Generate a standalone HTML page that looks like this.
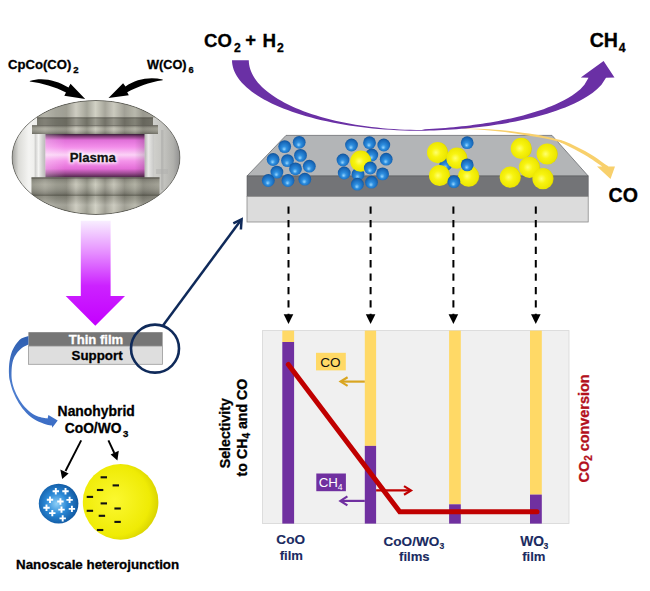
<!DOCTYPE html>
<html><head><meta charset="utf-8"><style>
html,body{margin:0;padding:0;background:#fff;width:650px;height:591px;overflow:hidden}
svg{display:block}
text{font-family:'Liberation Sans',sans-serif;font-weight:bold;stroke-width:0.3px}
.nv text{stroke-width:0.1px}
</style></head><body>
<svg width="650" height="591" viewBox="0 0 650 591">
<defs>
<radialGradient id="gb" cx="0.5" cy="0.55" r="0.62" fx="0.45" fy="0.72">
<stop offset="0" stop-color="#9ad8ff"/><stop offset="0.3" stop-color="#2e8fe0"/><stop offset="0.75" stop-color="#1766b6"/><stop offset="1" stop-color="#0d4684"/>
</radialGradient>
<radialGradient id="gy" cx="0.45" cy="0.5" r="0.62" fx="0.42" fy="0.5">
<stop offset="0" stop-color="#ffff70"/><stop offset="0.35" stop-color="#f8f410"/><stop offset="0.8" stop-color="#ece600"/><stop offset="1" stop-color="#b8b000"/>
</radialGradient>
<radialGradient id="gbig_b" cx="0.45" cy="0.5" r="0.6">
<stop offset="0" stop-color="#8fd0f8"/><stop offset="0.45" stop-color="#2a88d6"/><stop offset="1" stop-color="#0b4e96"/>
</radialGradient>
<radialGradient id="gbig_y" cx="0.42" cy="0.48" r="0.62">
<stop offset="0" stop-color="#fbf830"/><stop offset="0.75" stop-color="#efeb05"/><stop offset="1" stop-color="#d2cc00"/>
</radialGradient>
<linearGradient id="gmag" x1="0" y1="0" x2="0" y2="1">
<stop offset="0" stop-color="#f8eeff"/><stop offset="0.3" stop-color="#e690ff"/><stop offset="0.62" stop-color="#cc22ff"/><stop offset="1" stop-color="#c400ff"/>
</linearGradient>
<linearGradient id="gblue" x1="0" y1="0" x2="0" y2="1">
<stop offset="0" stop-color="#2f5fb0"/><stop offset="0.6" stop-color="#4f7fd0"/><stop offset="1" stop-color="#3a6cc4"/>
</linearGradient>
<linearGradient id="metal" gradientUnits="userSpaceOnUse" x1="12" y1="0" x2="180" y2="0">
<stop offset="0" stop-color="#707065"/><stop offset="0.107" stop-color="#89897c"/><stop offset="0.196" stop-color="#a7a699"/><stop offset="0.262" stop-color="#919184"/><stop offset="0.324" stop-color="#8a897c"/><stop offset="0.381" stop-color="#c3c2b4"/><stop offset="0.446" stop-color="#919183"/><stop offset="0.497" stop-color="#c7c7b8"/><stop offset="0.554" stop-color="#939285"/><stop offset="0.606" stop-color="#c0bfb1"/><stop offset="0.670" stop-color="#8d8c7f"/><stop offset="0.732" stop-color="#a9a99a"/><stop offset="0.780" stop-color="#848377"/><stop offset="0.881" stop-color="#9a998c"/><stop offset="1" stop-color="#6a695e"/>
</linearGradient>
<linearGradient id="metalv" x1="0" y1="0" x2="0" y2="1">
<stop offset="0" stop-color="#000" stop-opacity="0.2"/><stop offset="0.4" stop-color="#fff" stop-opacity="0.1"/><stop offset="1" stop-color="#000" stop-opacity="0.25"/>
</linearGradient>
<linearGradient id="pink" x1="0" y1="0" x2="0" y2="1">
<stop offset="0" stop-color="#3a1e3a"/><stop offset="0.06" stop-color="#8a4080"/><stop offset="0.14" stop-color="#e070d8"/><stop offset="0.3" stop-color="#f38eea"/><stop offset="0.48" stop-color="#fbd2f6"/><stop offset="0.62" stop-color="#f494ea"/><stop offset="0.8" stop-color="#e46ed8"/><stop offset="0.9" stop-color="#a04c96"/><stop offset="1" stop-color="#4a2444"/>
</linearGradient>
<linearGradient id="metalv2" x1="0" y1="0" x2="0" y2="1">
<stop offset="0" stop-color="#000" stop-opacity="0.15"/><stop offset="0.4" stop-color="#fff" stop-opacity="0.2"/><stop offset="0.75" stop-color="#fff" stop-opacity="0.1"/><stop offset="1" stop-color="#000" stop-opacity="0.2"/>
</linearGradient>
<linearGradient id="pinkh" x1="0" y1="0" x2="1" y2="0">
<stop offset="0" stop-color="#fff" stop-opacity="0.25"/><stop offset="0.2" stop-color="#fff" stop-opacity="0"/><stop offset="0.9" stop-color="#000" stop-opacity="0"/><stop offset="1" stop-color="#000" stop-opacity="0.15"/>
</linearGradient>
<linearGradient id="glassL" x1="0" y1="0" x2="1" y2="0">
<stop offset="0" stop-color="#c8c8c6"/><stop offset="0.35" stop-color="#f4f4f2"/><stop offset="0.7" stop-color="#d0d0ce"/><stop offset="1" stop-color="#b8b8b6"/>
</linearGradient>
<linearGradient id="glassR" x1="0" y1="0" x2="1" y2="0">
<stop offset="0" stop-color="#b0b0ae"/><stop offset="0.4" stop-color="#e8e8e6"/><stop offset="1" stop-color="#c8c8c6"/>
</linearGradient>
<linearGradient id="bgphoto" gradientUnits="userSpaceOnUse" x1="12" y1="0" x2="180" y2="0">
<stop offset="0" stop-color="#a0a09c"/><stop offset="0.04" stop-color="#dcdcd8"/><stop offset="0.1" stop-color="#f4f4f2"/><stop offset="0.2" stop-color="#e6e6e2"/><stop offset="0.8" stop-color="#d8d8d4"/><stop offset="0.9" stop-color="#c4c4c0"/><stop offset="0.96" stop-color="#b0b0ac"/><stop offset="1" stop-color="#909090"/>
</linearGradient>
<filter id="glow" x="-20%" y="-50%" width="140%" height="200%"><feGaussianBlur stdDeviation="1.6"/></filter>
<clipPath id="ell"><ellipse cx="96" cy="157.5" rx="84" ry="57"/></clipPath>
</defs>

<!-- black curved arrows -->
<path d="M29.8,81 C42,77 56,80 68.5,87.5 L70.5,83.8 L85.2,98.9 L64.3,95.8 L66,92.5 C55,87 42,83.2 29.8,81.6 Z" fill="#000"/>
<path d="M162.7,79.6 C150,76.5 136,79 125.5,86.5 L123.1,83.3 L108.5,98.1 L128.8,95.2 L127.2,92.2 C137,87 149,82.3 162.7,80.3 Z" fill="#000"/>

<!-- photo ellipse -->
<g clip-path="url(#ell)">
<rect x="0" y="95" width="190" height="125" fill="url(#bgphoto)"/>
<rect x="161" y="130" width="2.5" height="60" fill="#a8a8a6" opacity="0.5"/>
<rect x="156" y="169" width="12" height="5" fill="#b0b0ae" opacity="0.5"/>
<rect x="12" y="99" width="168" height="18.5" fill="url(#metal)"/>
<rect x="12" y="99" width="168" height="18.5" fill="#fff" fill-opacity="0.18"/>
<rect x="37" y="117.5" width="116" height="8" fill="url(#metal)"/>
<rect x="37" y="117.5" width="116" height="8" fill="#000" fill-opacity="0.22"/>
<rect x="37" y="117.3" width="116" height="1" fill="#3a3830" opacity="0.5"/>
<rect x="32" y="125.5" width="126" height="8.5" fill="url(#metal)"/>
<rect x="32" y="125.5" width="126" height="8.5" fill="url(#metalv)"/>
<rect x="32" y="125.2" width="126" height="0.9" fill="#3a3830" opacity="0.5"/>
<rect x="34.7" y="134" width="10.8" height="43.5" fill="url(#glassL)"/>
<rect x="144.5" y="134" width="9.5" height="43.5" fill="url(#glassR)"/>
<rect x="45.5" y="134" width="99" height="43.5" fill="url(#pink)"/>
<rect x="45.5" y="134" width="99" height="43.5" fill="url(#pinkh)"/>
<rect x="31.5" y="177.5" width="128" height="17.5" fill="url(#metal)"/>
<rect x="31.5" y="177.5" width="128" height="17.5" fill="url(#metalv)"/>
<rect x="31.5" y="177.3" width="128" height="1.2" fill="#3a3830" opacity="0.55"/>
<rect x="12" y="195" width="168" height="25" fill="url(#metal)"/>
<rect x="12" y="195" width="168" height="25" fill="url(#metalv2)"/>
<rect x="12" y="194.8" width="168" height="1" fill="#3a3830" opacity="0.45"/>
</g>

<g filter="url(#glow)" opacity="0.8"><text x="69.74" y="161.50" font-size="13.20" fill="#fff" stroke="#fff" style="stroke-width:3px">Plasma</text></g>
<text x="69.74" y="161.50" font-size="13.20" fill="#111" stroke="#111">Plasma</text>
<ellipse cx="96" cy="157.5" rx="84" ry="57" fill="none" stroke="#4a4a44" stroke-width="0.8"/>
<ellipse cx="96" cy="157.5" rx="85.2" ry="58.2" fill="none" stroke="#fff" stroke-width="1.4" opacity="0.8"/>
<!-- magenta arrow -->
<path d="M80.8,220.7 L110.6,220.7 L110.6,296 L125,296 L95.3,325.7 L65.7,296 L80.8,296 Z" fill="url(#gmag)"/>

<!-- thin film / support -->
<rect x="28.4" y="332.2" width="134.2" height="13.9" fill="#767676"/>
<rect x="28.4" y="346.1" width="134.2" height="18.2" fill="#dedede" stroke="#9a9a9a" stroke-width="0.8"/>
<text x="68.67" y="344.30" font-size="13.10" fill="#fff" stroke="#fff">Thin film</text>
<text x="71.60" y="359.60" font-size="13.30" fill="#000" stroke="#000">Support</text>

<!-- navy circle and line -->
<circle cx="155" cy="348.6" r="24" fill="none" stroke="#0f2a5a" stroke-width="2.6"/>
<line x1="163" y1="325.5" x2="241" y2="220" stroke="#0f2a5a" stroke-width="2.5"/>
<path d="M233.3,223.4 L241.6,219.4 L240.9,229.5" fill="none" stroke="#0f2a5a" stroke-width="2.5" stroke-linejoin="miter"/>

<!-- blue curved arrow -->
<path d="M28.40,335.90 C27.22,336.35 23.47,337.07 21.30,338.60 C19.13,340.13 17.07,342.63 15.40,345.10 C13.73,347.57 12.33,350.23 11.30,353.40 C10.27,356.57 9.58,360.53 9.20,364.10 C8.82,367.67 8.88,371.98 9.00,374.80 C9.12,377.62 9.20,378.13 9.90,381.00 C10.60,383.87 11.73,388.33 13.20,392.00 C14.67,395.67 16.50,399.52 18.70,403.00 C20.90,406.48 23.47,409.97 26.40,412.90 C29.33,415.83 33.00,418.68 36.30,420.60 C39.60,422.52 43.58,423.57 46.20,424.40 C48.82,425.23 51.03,425.40 52.00,425.60 L52.20,427.70 L57.70,420.40 L48.40,415.10 L47.60,418.40 C45.90,418.03 40.57,417.48 37.40,416.20 C34.23,414.92 31.35,413.08 28.60,410.70 C25.85,408.32 23.13,405.10 20.90,401.90 C18.67,398.70 16.68,394.98 15.20,391.50 C13.72,388.02 12.60,384.58 12.00,381.00 C11.40,377.42 11.43,373.42 11.60,370.00 C11.77,366.58 12.17,363.27 13.00,360.50 C13.83,357.73 15.02,355.57 16.60,353.40 C18.18,351.23 20.53,348.98 22.50,347.50 C24.47,346.02 27.42,345.00 28.40,344.50 Z" fill="url(#gblue)"/>

<!-- small arrows to spheres -->
<line x1="81.2" y1="440.4" x2="65.5" y2="471" stroke="#000" stroke-width="1.9"/>
<path d="M60.3,469.5 L68.6,473.6 L62.2,479 Z" fill="#000"/>
<line x1="108.4" y1="440.4" x2="114.3" y2="453" stroke="#000" stroke-width="1.9"/>
<path d="M110.6,454.6 L118.8,450.8 L117.4,460.5 Z" fill="#000"/>

<!-- spheres -->
<circle cx="58.6" cy="503.6" r="19.8" fill="url(#gbig_b)"/>
<circle cx="120.6" cy="501.9" r="37.8" fill="url(#gbig_y)"/>
<g stroke="#fff" stroke-width="1.9"><path d="M52.6,491.2h6.4M55.8,488.0v6.4"/><path d="M62.3,491.2h6.4M65.5,488.0v6.4"/><path d="M46.8,499.7h6.4M50.0,496.5v6.4"/><path d="M57.2,501.5h6.4M60.4,498.3v6.4"/><path d="M66.4,499.9h6.4M69.6,496.7v6.4"/><path d="M43.3,507.8h6.4M46.5,504.6v6.4"/><path d="M58.3,509.6h6.4M61.5,506.4v6.4"/><path d="M68.7,508.9h6.4M71.9,505.7v6.4"/><path d="M49.1,513.1h6.4M52.3,509.9v6.4"/><path d="M59.5,518.4h6.4M62.7,515.2v6.4"/></g>
<g stroke="#111" stroke-width="2.1"><path d="M100.6,477.3h6.4"/><path d="M112.6,485.4h6.4"/><path d="M96.9,490.0h6.4"/><path d="M86.7,496.9h6.4"/><path d="M100.6,503.4h6.4"/><path d="M86.7,510.8h6.4"/><path d="M114.4,508.5h6.4"/><path d="M98.7,515.8h6.4"/><path d="M114.4,521.9h6.4"/><path d="M96.9,530.0h6.4"/></g>

<!-- slab -->
<path d="M286,135.4 L552,135.4 L588.2,176 L247,176 Z" fill="#b3b5b7" stroke="#6a6c70" stroke-width="0.8"/>
<rect x="247" y="176" width="341.2" height="20.4" fill="#737477" stroke="#5a5b5e" stroke-width="0.6"/>
<rect x="247" y="196.4" width="341.2" height="25.6" fill="#dcdcdc" stroke="#8a8a8a" stroke-width="0.8"/>
<circle cx="299.2" cy="142.3" r="6.4" fill="url(#gb)"/>
<circle cx="284.7" cy="146.6" r="6.4" fill="url(#gb)"/>
<circle cx="300.5" cy="155.4" r="6.4" fill="url(#gb)"/>
<circle cx="273.1" cy="159.5" r="6.4" fill="url(#gb)"/>
<circle cx="287.5" cy="160.6" r="6.4" fill="url(#gb)"/>
<circle cx="309.3" cy="166.2" r="6.4" fill="url(#gb)"/>
<circle cx="295.5" cy="168.8" r="6.4" fill="url(#gb)"/>
<circle cx="276.9" cy="172.1" r="6.4" fill="url(#gb)"/>
<circle cx="304.8" cy="179.2" r="6.4" fill="url(#gb)"/>
<circle cx="268.3" cy="180.5" r="6.4" fill="url(#gb)"/>
<circle cx="288.0" cy="180.5" r="6.4" fill="url(#gb)"/>
<circle cx="369.5" cy="142.7" r="6.4" fill="url(#gb)"/>
<circle cx="351.5" cy="145.0" r="6.4" fill="url(#gb)"/>
<circle cx="383.8" cy="145.0" r="6.4" fill="url(#gb)"/>
<circle cx="371.8" cy="155.0" r="6.4" fill="url(#gb)"/>
<circle cx="386.2" cy="159.2" r="6.4" fill="url(#gb)"/>
<circle cx="343.0" cy="160.0" r="6.4" fill="url(#gb)"/>
<circle cx="344.2" cy="173.0" r="6.4" fill="url(#gb)"/>
<circle cx="358.0" cy="174.2" r="6.4" fill="url(#gb)"/>
<circle cx="360.8" cy="161.2" r="10.6" fill="url(#gy)"/>
<circle cx="370.3" cy="168.0" r="6.4" fill="url(#gb)"/>
<circle cx="382.6" cy="173.9" r="6.4" fill="url(#gb)"/>
<circle cx="371.5" cy="182.2" r="6.4" fill="url(#gb)"/>
<circle cx="357.4" cy="184.2" r="6.4" fill="url(#gb)"/>
<circle cx="467.2" cy="142.7" r="6.4" fill="url(#gb)"/>
<circle cx="445.8" cy="164.4" r="6.4" fill="url(#gb)"/>
<circle cx="437.6" cy="152.6" r="10.6" fill="url(#gy)"/>
<circle cx="456.9" cy="158.2" r="10.6" fill="url(#gy)"/>
<circle cx="439.6" cy="175.5" r="10.6" fill="url(#gy)"/>
<circle cx="468.7" cy="176.2" r="10.6" fill="url(#gy)"/>
<circle cx="467.2" cy="164.9" r="6.4" fill="url(#gb)"/>
<circle cx="453.9" cy="181.6" r="6.4" fill="url(#gb)"/>
<circle cx="521.3" cy="148.4" r="10.6" fill="url(#gy)"/>
<circle cx="547.2" cy="154.0" r="10.6" fill="url(#gy)"/>
<circle cx="529.5" cy="167.3" r="10.6" fill="url(#gy)"/>
<circle cx="510.3" cy="177.2" r="10.6" fill="url(#gy)"/>
<circle cx="543.0" cy="178.7" r="10.6" fill="url(#gy)"/>

<!-- purple swoosh & orange arrow -->
<path d="M462.00,128.20 C468.33,128.50 487.83,128.93 500.00,130.00 C512.17,131.07 525.83,133.15 535.00,134.60 C544.17,136.05 550.00,137.57 555.00,138.70 C560.00,139.83 561.67,140.20 565.00,141.40 C568.33,142.60 571.67,144.32 575.00,145.90 C578.33,147.48 581.67,149.07 585.00,150.90 C588.33,152.73 592.00,154.92 595.00,156.90 C598.00,158.88 600.75,161.20 603.00,162.80 C605.25,164.40 607.58,165.88 608.50,166.50 L615.00,166.50 L610.50,179.00 L597.00,166.50 L602.30,166.50 C600.75,165.62 597.42,163.15 594.50,161.20 C591.58,159.25 587.83,156.78 584.50,154.80 C581.17,152.82 577.83,151.05 574.50,149.30 C571.17,147.55 567.75,145.73 564.50,144.30 C561.25,142.87 559.92,141.97 555.00,140.70 C550.08,139.43 544.17,138.23 535.00,136.70 C525.83,135.17 512.17,132.85 500.00,131.50 C487.83,130.15 468.33,129.08 462.00,128.60 Z" fill="#f8d06c"/>
<path d="M248.80,60.20 L248.89,62.48 L249.17,64.77 L249.63,67.04 L250.28,69.31 L251.11,71.57 L252.12,73.82 L253.32,76.05 L254.69,78.27 L256.25,80.46 L257.98,82.64 L259.89,84.79 L261.97,86.91 L264.22,89.01 L266.64,91.07 L269.23,93.10 L271.98,95.10 L274.89,97.06 L277.96,98.98 L281.18,100.86 L284.55,102.69 L288.07,104.48 L291.73,106.22 L295.53,107.91 L299.47,109.56 L303.54,111.14 L307.73,112.68 L312.05,114.16 L316.48,115.58 L321.03,116.94 L325.69,118.24 L330.44,119.47 L335.30,120.65 L340.25,121.76 L345.28,122.80 L350.40,123.78 L355.60,124.69 L360.86,125.53 L366.19,126.30 L371.58,126.99 L377.02,127.62 L382.52,128.18 L388.05,128.66 L393.62,129.07 L399.22,129.40 L404.84,129.66 L410.49,129.85 L416.14,129.96 L421.80,130.00 L425.00,129.22 L429.09,129.01 L433.18,128.78 L437.26,128.52 L441.35,128.23 L445.44,127.92 L449.52,127.58 L453.61,127.20 L457.70,126.80 L461.79,126.36 L465.88,125.90 L469.96,125.40 L474.05,124.87 L478.14,124.30 L482.23,123.70 L486.31,123.06 L490.40,122.39 L494.49,121.67 L498.57,120.92 L502.66,120.12 L506.75,119.28 L510.84,118.39 L514.92,117.45 L519.01,116.45 L523.10,115.40 L527.19,114.29 L531.27,113.12 L535.36,111.87 L539.45,110.54 L543.54,109.13 L547.62,107.62 L551.71,106.00 L555.80,104.26 L559.89,102.37 L563.98,100.31 L568.06,98.04 L572.15,95.49 L576.24,92.58 L580.33,89.13 L584.41,84.73 L588.50,77.75 L580.80,77.60 L603.60,61.00 L614.50,77.60 L606.00,77.80 L606.00,77.83 L601.48,84.64 L596.95,89.25 L592.42,92.93 L587.90,96.06 L583.38,98.80 L578.85,101.25 L574.33,103.47 L569.80,105.51 L565.27,107.38 L560.75,109.12 L556.23,110.73 L551.70,112.25 L547.17,113.66 L542.65,114.99 L538.12,116.23 L533.60,117.41 L529.08,118.51 L524.55,119.55 L520.02,120.53 L515.50,121.45 L510.98,122.32 L506.45,123.13 L501.93,123.90 L497.40,124.62 L492.88,125.29 L488.35,125.92 L483.82,126.50 L479.30,127.05 L474.77,127.55 L470.25,128.02 L465.73,128.45 L461.20,128.83 L456.68,129.19 L452.15,129.50 L447.62,129.79 L443.10,130.03 L438.57,130.24 L434.05,130.42 L429.52,130.56 L425.00,130.67 L421.80,130.80 L415.59,130.76 L409.39,130.65 L403.20,130.46 L397.03,130.20 L390.88,129.86 L384.77,129.44 L378.70,128.96 L372.68,128.39 L366.70,127.76 L360.79,127.05 L354.94,126.27 L349.17,125.43 L343.47,124.51 L337.85,123.52 L332.33,122.46 L326.90,121.34 L321.57,120.15 L316.35,118.90 L311.25,117.59 L306.26,116.21 L301.39,114.77 L296.66,113.28 L292.05,111.73 L287.59,110.12 L283.27,108.46 L279.10,106.75 L275.08,104.99 L271.22,103.18 L267.52,101.32 L263.99,99.42 L260.62,97.48 L257.43,95.50 L254.41,93.48 L251.57,91.43 L248.92,89.34 L246.45,87.22 L244.17,85.07 L242.07,82.89 L240.17,80.69 L238.47,78.47 L236.96,76.23 L235.65,73.97 L234.54,71.70 L233.62,69.42 L232.91,67.12 L232.41,64.82 L232.10,62.51 L232.00,60.20 Z" fill="#6a30a5"/>

<!-- dashed arrows -->
<line x1="288.5" y1="206.5" x2="288.5" y2="315" stroke="#000" stroke-width="2.0" stroke-dasharray="7.3,6.1"/><path d="M283.7,314.3 L293.3,314.3 L288.5,324 Z" fill="#000"/><line x1="370.6" y1="206.5" x2="370.6" y2="315" stroke="#000" stroke-width="2.0" stroke-dasharray="7.3,6.1"/><path d="M365.8,314.3 L375.4,314.3 L370.6,324 Z" fill="#000"/><line x1="453.4" y1="206.5" x2="453.4" y2="315" stroke="#000" stroke-width="2.0" stroke-dasharray="7.3,6.1"/><path d="M448.6,314.3 L458.2,314.3 L453.4,324 Z" fill="#000"/><line x1="535.8" y1="206.5" x2="535.8" y2="315" stroke="#000" stroke-width="2.0" stroke-dasharray="7.3,6.1"/><path d="M531.0,314.3 L540.6,314.3 L535.8,324 Z" fill="#000"/>

<!-- chart -->
<rect x="262.5" y="330.6" width="306.5" height="193" fill="#f0f0f0" stroke="#d6d6d6" stroke-width="0.8"/>
<rect x="282.3" y="330.6" width="11.8" height="11.4" fill="#ffd966"/>
<rect x="282.3" y="342" width="11.8" height="181.6" fill="#7030a0"/>
<rect x="364.8" y="330.6" width="11.3" height="115.3" fill="#ffd966"/>
<rect x="364.8" y="445.9" width="11.3" height="77.7" fill="#7030a0"/>
<rect x="449.1" y="330.6" width="11.7" height="173.7" fill="#ffd966"/>
<rect x="449.1" y="504.3" width="11.7" height="19.3" fill="#7030a0"/>
<rect x="530" y="330.6" width="11.8" height="164" fill="#ffd966"/>
<rect x="530" y="494.6" width="11.8" height="29" fill="#7030a0"/>

<polyline points="288.3,364.5 399.7,511.7 537,511.7" fill="none" stroke="#c00000" stroke-width="5" stroke-linecap="round" stroke-linejoin="miter"/>

<rect x="316" y="352.8" width="29.8" height="17.6" fill="#ffd966"/>
<text x="320.22" y="367.00" font-size="13.60" style="font-weight:normal;stroke-width:0" fill="#111" stroke="#111">CO</text>
<line x1="364.8" y1="381.6" x2="341.5" y2="381.6" stroke="#d9a520" stroke-width="2.2"/>
<path d="M347.6,377.3 L340.6,381.6 L347.6,385.9" fill="none" stroke="#d9a520" stroke-width="2.2"/>

<rect x="316.3" y="473.5" width="29.6" height="17.7" fill="#7030a0"/>
<text x="318.63" y="487.30" font-size="13.30" style="font-weight:normal;stroke-width:0" fill="#fff" stroke="#fff">CH</text>
<text x="337.83" y="490.40" font-size="8.60" style="font-weight:normal;stroke-width:0" fill="#fff" stroke="#fff">4</text>
<line x1="364.8" y1="500.9" x2="341.5" y2="500.9" stroke="#7030a0" stroke-width="2.2"/>
<path d="M347.4,496.4 L340.4,500.9 L347.4,505.4" fill="none" stroke="#7030a0" stroke-width="2.2"/>

<line x1="376.1" y1="490.4" x2="410" y2="490.4" stroke="#c00000" stroke-width="2.2"/>
<path d="M404,486.1 L411,490.4 L404,494.7" fill="none" stroke="#c00000" stroke-width="2.2"/>

<!-- axis labels -->
<text transform="translate(229.5,468.3) rotate(-90)" font-size="14.2" stroke="#000">Selectivity</text>
<text transform="translate(247.3,476.4) rotate(-90)" font-size="14.2" stroke="#000">to CH<tspan font-size="10" dy="3">4</tspan><tspan dy="-3"> and CO</tspan></text>
<text transform="translate(588.5,482.4) rotate(-90)" font-size="14.4" fill="#b3101c" stroke="#b3101c">CO<tspan font-size="10" dy="3">2</tspan><tspan dy="-3"> conversion</tspan></text>

<text x="7.98" y="69.30" font-size="13.10" stroke="#000">CpCo(CO)</text>
<text x="73.26" y="72.60" font-size="9.60" stroke="#000">2</text>
<text x="147.10" y="69.40" font-size="12.70" stroke="#000">W(CO)</text>
<text x="188.58" y="72.60" font-size="9.20" stroke="#000">6</text>
<text x="57.60" y="415.80" font-size="13.90" stroke="#000">Nanohybrid</text>
<text x="64.75" y="433.10" font-size="13.80" stroke="#000">CoO/WO</text>
<text x="122.96" y="436.60" font-size="9.60" stroke="#000">3</text>
<text x="16.03" y="569.20" font-size="13.35" stroke="#000">Nanoscale heterojunction</text>
<text x="204.06" y="46.50" font-size="18.50" stroke="#000">CO</text>
<text x="233.97" y="51.60" font-size="12.20" stroke="#000">2</text>
<text x="245.26" y="46.00" font-size="18.50" stroke="#000">+</text>
<text x="262.58" y="46.50" font-size="18.80" stroke="#000">H</text>
<text x="277.07" y="51.60" font-size="12.20" stroke="#000">2</text>
<text x="589.72" y="46.50" font-size="19.60" stroke="#000">CH</text>
<text x="618.82" y="51.60" font-size="12.20" stroke="#000">4</text>
<text x="608.52" y="201.60" font-size="19.60" stroke="#000">CO</text>
<g fill="#1a2c66" stroke="#1a2c66" class="nv">
<text x="276.36" y="544.30" font-size="13.60" stroke="#000">CoO</text>
<text x="279.70" y="560.20" font-size="13.10" stroke="#000">film</text>
<text x="383.46" y="545.60" font-size="13.60" stroke="#000">CoO/WO</text>
<text x="439.39" y="548.60" font-size="8.60" stroke="#000">3</text>
<text x="399.10" y="561.20" font-size="13.10" stroke="#000">films</text>
<text x="520.20" y="545.60" font-size="13.80" stroke="#000">WO</text>
<text x="543.38" y="548.60" font-size="8.60" stroke="#000">3</text>
<text x="522.20" y="561.20" font-size="13.10" stroke="#000">film</text>
</g>
</svg>
</body></html>
